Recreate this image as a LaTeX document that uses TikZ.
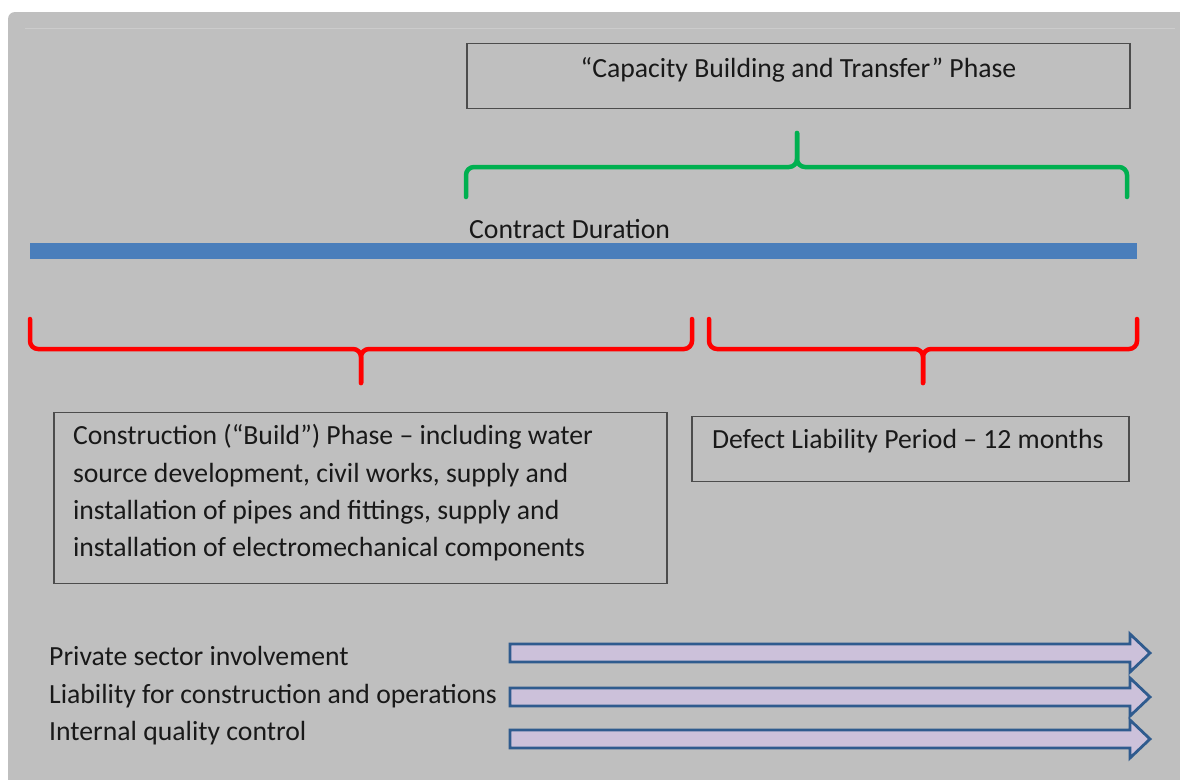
\documentclass[tikz,border=0pt]{standalone}
\usepackage{fontspec}
\setmainfont{Carlito}
\usetikzlibrary{calc}
\definecolor{panelgray}{HTML}{BFBFBF}
\definecolor{barblue}{HTML}{4A7EBB}
\definecolor{bracegreen}{HTML}{00B050}
\definecolor{arrowfill}{HTML}{CCC1DA}
\definecolor{arrowline}{HTML}{2F5B8E}

\begin{document}
\begin{tikzpicture}[x=1pt,y=-1pt,
	box/.style={draw=black!70,line width=1.4pt,inner sep=0pt,anchor=north,font=\fontsize{27.7}{37.3}\selectfont,text=black!90},
	txt/.style={inner sep=0pt,anchor=base west,font=\fontsize{27.7}{37.3}\selectfont,text=black!90},
	red brace/.style={draw=red,line width=4.5pt,rounded corners=8pt,line cap=round},
	green brace/.style={draw=bracegreen,line width=4.5pt,rounded corners=8pt,line cap=round},
	flow/.style={draw=arrowline,fill=arrowfill,line width=2.8pt,line join=miter}]

				\useasboundingbox (0,0) rectangle (1180,779);
				\fill[white] (0,0) rectangle (1180,779);
				\fill[panelgray,rounded corners=7pt] (8,12) rectangle (1200,800);
				\draw[panelgray!80!white,line width=0.8pt] (25,28) -- (1175,28);

				\node[box,minimum width=663pt,text height=34pt,text depth=31pt] (CBT) at (798.5,43) {“Capacity Building and Transfer” Phase};

				\draw[green brace] (466,197) |- (797,167) -- (797,133);
				\draw[green brace] (1127,197) |- (797,167) -- (797,133);

				\node[txt] (CD) at (469,238) {Contract Duration};
				\node[fill=barblue,minimum width=1107pt,minimum height=16pt,inner sep=0pt] (BAR) at (583.5,251) {};

				\draw[red brace] (30,319) |- (361,349) -- (361,383);
				\draw[red brace] (692,319) |- (361,349) -- (361,383);
				\draw[red brace] (709,319) |- (923,349) -- (923,383);
				\draw[red brace] (1137,319) |- (923,349) -- (923,383);

				\node[box,minimum width=613pt,text width=575pt,align=flush left,inner xsep=19pt,text height=32pt,text depth=139pt] (BLD) at (360.5,412) {Construction (“Build”) Phase – including water\\ source development, civil works, supply and\\ installation of pipes and fittings, supply and\\ installation of electromechanical components};
				\node[box,minimum width=437pt,text width=397pt,align=flush left,inner xsep=20pt,text height=32pt,text depth=33pt] (DLP) at (910.5,416) {Defect Liability Period – 12 months};

				\node[txt] (PSI) at (49,665) {Private sector involvement};
				\node[txt] (LCO) at (49,703) {Liability for construction and operations};
				\node[txt] (IQC) at (49,740) {Internal quality control};

				\draw[flow] (510,644) -- (1130,644) -- (1130,634) -- (1150,653) -- (1130,672) -- (1130,662) -- (510,662) -- cycle;
				\draw[flow] (510,688) -- (1130,688) -- (1130,678) -- (1150,697) -- (1130,716) -- (1130,706) -- (510,706) -- cycle;
				\draw[flow] (510,730) -- (1130,730) -- (1130,720) -- (1150,739) -- (1130,758) -- (1130,748) -- (510,748) -- cycle;

\end{tikzpicture}
\end{document}
